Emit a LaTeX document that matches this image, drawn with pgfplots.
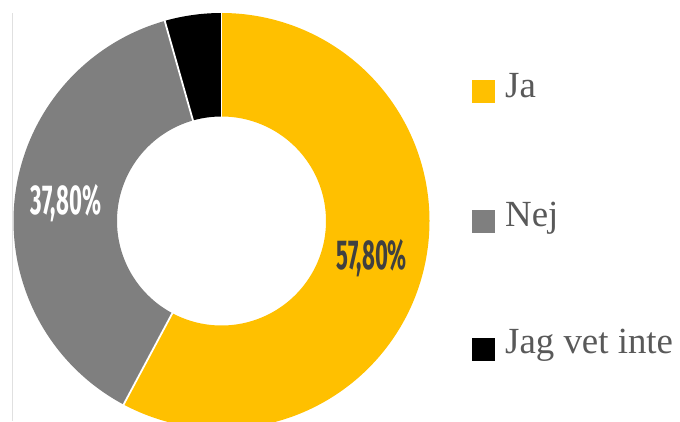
\documentclass[border=0pt]{standalone}
\usepackage{fontspec}
\setmainfont{Liberation Serif}
\newfontfamily\cond[FakeStretch=0.53]{Fira Sans}
\usepackage{pgfplots}
\pgfplotsset{compat=1.18}

\definecolor{cJa}{HTML}{FFC000}
\definecolor{cNej}{HTML}{7F7F7F}
\definecolor{cVet}{HTML}{000000}
\definecolor{txt}{HTML}{595959}
\definecolor{lbl}{HTML}{404040}

% shares in percent
\def\ja{57.8}
\def\nej{37.8}
\def\vet{4.4}

\begin{document}
\begin{tikzpicture}
\pgfmathsetmacro{\aA}{90}
\pgfmathsetmacro{\aB}{90-3.6*\ja}
\pgfmathsetmacro{\aC}{\aB-3.6*\nej}
\pgfmathsetmacro{\aD}{\aC-3.6*\vet}
\def\cx{221.5}
\def\cy{200}
\def\ro{208}
\def\ri{104.5}
\pgfmathsetmacro{\rm}{(\ro+\ri)/2}
\pgfmathsetmacro{\rw}{\ro-\ri}
\begin{axis}[
    width=680bp, height=421bp,
    scale only axis,
    xmin=0, xmax=680, ymin=0, ymax=421,
    hide axis,
    clip=true,
]
% faint left border
\addplot[draw=black!12, line width=0.8pt] coordinates {(12.7,0) (12.7,408)};
% ring segments
\addplot[cJa, line width=\rw bp, domain=\aA:\aB, samples=200, variable=\t]
    ({\cx+\rm*cos(t)}, {\cy+\rm*sin(t)});
\addplot[cNej, line width=\rw bp, domain=\aB:\aC, samples=150, variable=\t]
    ({\cx+\rm*cos(t)}, {\cy+\rm*sin(t)});
\addplot[cVet, line width=\rw bp, domain=\aC:\aD, samples=30, variable=\t]
    ({\cx+\rm*cos(t)}, {\cy+\rm*sin(t)});
% white separators
\foreach \a in {\aA,\aB,\aC} {
  \addplot[white, line width=1.8bp, domain=\ri-2:\ro+2, samples=2, variable=\r]
      ({\cx+\r*cos(\a)}, {\cy+\r*sin(\a)});
}
% legend squares
\addplot[only marks, mark=square*, mark size=11bp, color=cJa] coordinates {(483.5,329.5)};
\addplot[only marks, mark=square*, mark size=11bp, color=cNej] coordinates {(483.5,200)};
\addplot[only marks, mark=square*, mark size=11bp, color=cVet] coordinates {(483.5,71.5)};
\end{axis}
\path (current axis.south west) rectangle (current axis.north east);
\begin{axis}[
    width=680bp, height=421bp,
    scale only axis,
    xmin=0, xmax=680, ymin=0, ymax=421,
    hide axis,
]
\node[anchor=base west, text=txt, font=\fontsize{37}{40}\selectfont, inner sep=0pt] at (axis cs:505,323) {Ja};
\node[anchor=base west, text=txt, font=\fontsize{37}{40}\selectfont, inner sep=0pt] at (axis cs:505,194) {Nej};
\node[anchor=base west, text=txt, font=\fontsize{37}{40}\selectfont, inner sep=0pt] at (axis cs:505,68) {Jag vet inte};
\node[anchor=base, text=lbl, font=\cond\bfseries\fontsize{42}{46}\selectfont, inner sep=0pt] at (axis cs:372,151) {57,80\%};
\node[anchor=base, text=white, font=\cond\bfseries\fontsize{42}{46}\selectfont, inner sep=0pt] at (axis cs:66,206) {37,80\%};
\end{axis}
\end{tikzpicture}
\end{document}
